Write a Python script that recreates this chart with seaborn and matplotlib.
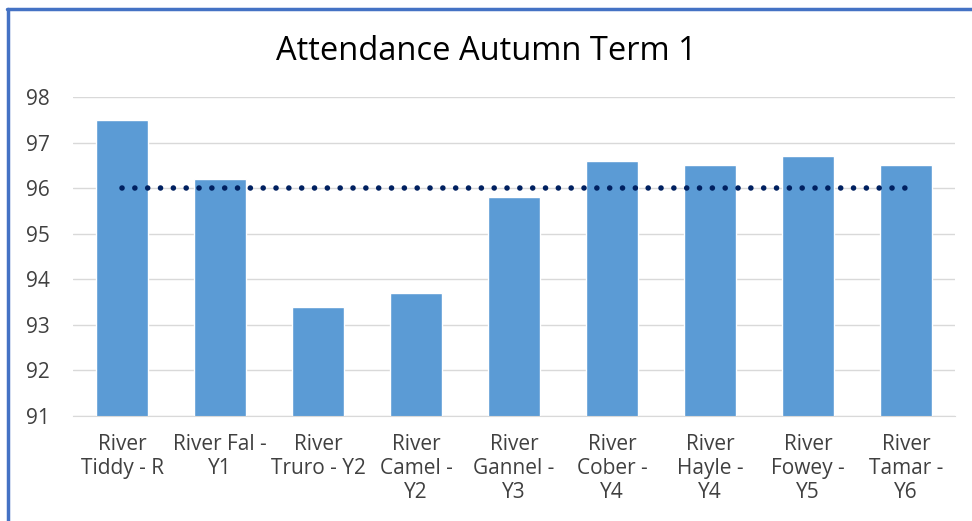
import numpy as np
import matplotlib
matplotlib.use("Agg")
import matplotlib.pyplot as plt
from matplotlib.lines import Line2D
import seaborn as sns

classes = ["River\nTiddy - R", "River Fal -\nY1", "River\nTruro - Y2",
           "River\nCamel -\nY2", "River\nGannel -\nY3", "River\nCober -\nY4",
           "River\nHayle -\nY4", "River\nFowey -\nY5", "River\nTamar -\nY6"]
attendance = [97.5, 96.2, 93.4, 93.7, 95.8, 96.6, 96.5, 96.7, 96.5]
target = [96] * len(classes)
yticks = [91, 92, 93, 94, 95, 96, 97, 98]

sns.set_style("white")
plt.rcParams["font.family"] = ["Open Sans", "DejaVu Sans"]

fig = plt.figure(figsize=(9.72, 5.21), dpi=100)
ax = fig.add_axes([73 / 972, 1 - 416 / 521, 882 / 972, 319 / 521])

sns.barplot(x=classes, y=attendance, color="#5B9BD5", width=0.53,
            saturation=1, ax=ax, zorder=2)
ax.plot(np.arange(len(classes)), target, color="#002060", linewidth=4.0,
        linestyle=(0, (0.01, 2.3)), dash_capstyle="round", zorder=3)

ax.set_ylim(91, 98)
ax.set_xlim(-0.5, len(classes) - 0.5)
ax.set_yticks(yticks)
ax.yaxis.grid(True, color="#D9D9D9", linewidth=1)
ax.set_axisbelow(True)
for s in ["top", "right", "left"]:
    ax.spines[s].set_visible(False)
ax.spines["bottom"].set_color("#D9D9D9")
ax.tick_params(axis="both", length=0, labelsize=15, colors="#404040")
ax.tick_params(axis="x", pad=13)
ax.tick_params(axis="y", pad=34)
for lbl in ax.get_yticklabels():
    lbl.set_horizontalalignment("left")
for lbl in ax.get_xticklabels():
    lbl.set_linespacing(1.2)
ax.set_xlabel("")
ax.set_ylabel("")
fig.text(0.5, 1 - 51 / 521, "Attendance Autumn Term 1", ha="center",
         va="center", fontsize=23.5, color="#000000")

# blue frame at top and left
fig.add_artist(Line2D([7 / 972, 1], [1 - 9 / 521] * 2, color="#4472C4",
                      linewidth=2.5, transform=fig.transFigure))
fig.add_artist(Line2D([8 / 972] * 2, [0, 1 - 9 / 521], color="#4472C4",
                      linewidth=2.5, transform=fig.transFigure))

fig.savefig("out.png", dpi=100)
